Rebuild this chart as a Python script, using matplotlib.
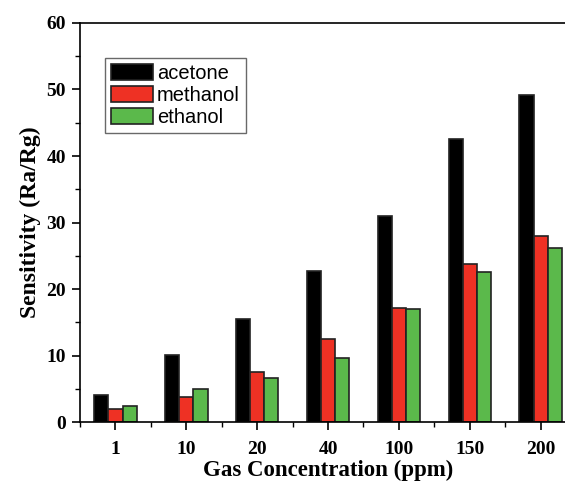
import matplotlib.pyplot as plt
import numpy as np
from matplotlib.ticker import MultipleLocator

# Data
concentrations = ['1', '10', '20', '40', '100', '150', '200']
acetone = [4.05, 10.1, 15.5, 22.7, 31.0, 42.6, 49.2]
methanol = [1.9, 3.8, 7.5, 12.45, 17.2, 23.75, 27.95]
ethanol = [2.45, 5.0, 6.55, 9.7, 17.0, 22.5, 26.2]

x = np.arange(len(concentrations))
width = 0.2

fig = plt.figure(figsize=(5.65, 4.84), dpi=100)
ax = fig.add_axes([0.1416, 0.128, 0.878, 0.8245])

ax.bar(x - width, acetone, width, color='black', edgecolor='#222222', linewidth=1.2, label='acetone')
ax.bar(x, methanol, width, color='#EE3124', edgecolor='#222222', linewidth=1.2, label='methanol')
ax.bar(x + width, ethanol, width, color='#5BB94B', edgecolor='#222222', linewidth=1.2, label='ethanol')

ax.set_xlim(-0.5, len(x) - 0.5)
ax.set_ylim(0, 60)
ax.set_xticks(x)
ax.set_xticklabels(concentrations)
ax.xaxis.set_minor_locator(MultipleLocator(1, offset=0.5))
ax.yaxis.set_major_locator(MultipleLocator(10))
ax.yaxis.set_minor_locator(MultipleLocator(5))

for lbl in ax.get_xticklabels() + ax.get_yticklabels():
    lbl.set_fontfamily('Liberation Serif')
    lbl.set_fontweight('bold')
    lbl.set_fontsize(14)

ax.tick_params(which='major', direction='out', length=6, width=1.2, pad=4)
ax.tick_params(which='minor', direction='out', length=3.5, width=1.0)
ax.tick_params(axis='x', pad=8)
for side in ['left', 'bottom', 'top', 'right']:
    ax.spines[side].set_linewidth(1.2)

ax.set_xlabel('Gas Concentration (ppm)', fontdict={'family': 'Liberation Serif', 'weight': 'bold', 'size': 16.5}, labelpad=1)
ax.set_ylabel('Sensitivity (Ra/Rg)', fontdict={'family': 'Liberation Serif', 'weight': 'bold', 'size': 17}, labelpad=4)

leg = ax.legend(loc='upper left', bbox_to_anchor=(0.05, 0.912), borderaxespad=0,
                prop={'family': 'Liberation Sans', 'size': 14.5},
                handlelength=2.1, handleheight=0.85, labelspacing=0.15,
                handletextpad=0.2, fancybox=False, edgecolor='#444444',
                borderpad=0.3)
leg.get_frame().set_linewidth(1.0)

plt.savefig('out.png', dpi=100)
